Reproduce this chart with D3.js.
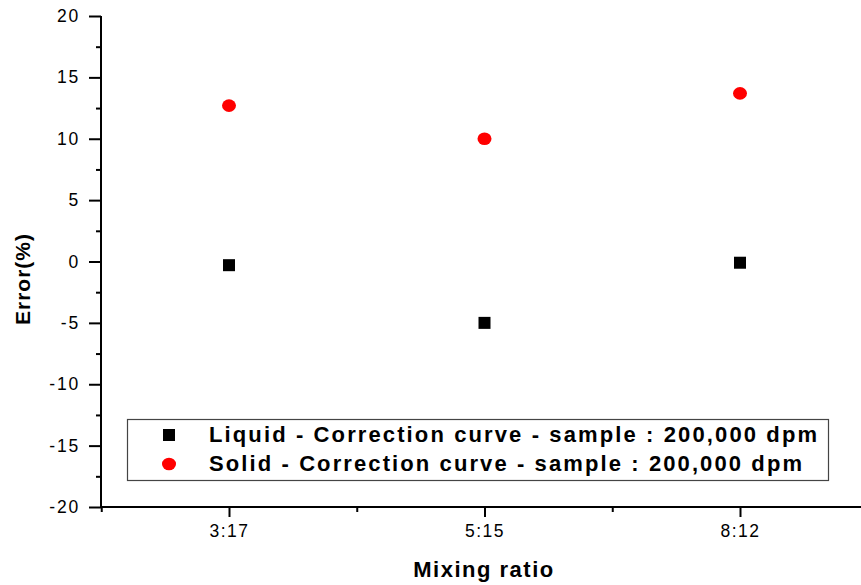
<!DOCTYPE html>
<html><head><meta charset="utf-8">
<script src="https://cdn.jsdelivr.net/npm/d3@7"></script>
<style>
body{margin:0;background:#fff;}
text{font-family:"Liberation Sans",Arial,sans-serif;}
</style></head>
<body><svg id="c" width="861" height="585"></svg>
<script>
const categories = ["3:17", "5:15", "8:12"];
const liquidValues = [-0.3, -5.0, -0.1];
const solidValues = [12.7, 10.0, 13.7];
const yTicks = [-20, -15, -10, -5, 0, 5, 10, 15, 20];
const yMinorTicks = [-17.5, -12.5, -7.5, -2.5, 2.5, 7.5, 12.5, 17.5];
const xMinorTicks = [-0.5, 0.5, 1.5, 2.5];
const legendLabels = ["Liquid - Correction curve - sample : 200,000 dpm",
                      "Solid - Correction curve - sample : 200,000 dpm"];

const svg = d3.select("#c");
const x = d3.scaleLinear().domain([-0.5, 2.5]).range([101.25, 867.75]);
const y = d3.scaleLinear().domain([-20, 20]).range([507, 16]);

// Y axis
const yAx = svg.append("g").attr("transform", "translate(101,0)")
  .call(d3.axisLeft(y).tickValues(yTicks).tickSize(12).tickPadding(9).tickFormat(d => String(d)));
yAx.select(".domain").attr("stroke-width", 2).attr("d", "M0,16V507");
yAx.selectAll(".tick line").attr("stroke-width", 2);
yAx.selectAll(".tick text").attr("font-size", 17.5).attr("fill", "#000").attr("letter-spacing", 1.8);
const yMin = svg.append("g").attr("transform", "translate(101,0)")
  .call(d3.axisLeft(y).tickValues(yMinorTicks).tickSize(5).tickFormat(""));
yMin.select(".domain").remove();
yMin.selectAll(".tick line").attr("stroke-width", 2);

// X axis
const xAx = svg.append("g").attr("transform", "translate(0,507)")
  .call(d3.axisBottom(x).tickValues([0, 1, 2]).tickSize(10).tickPadding(8)
    .tickFormat(i => categories[i]));
xAx.select(".domain").attr("stroke-width", 2).attr("d", "M100,0H868");
xAx.selectAll(".tick line").attr("stroke-width", 2);
xAx.selectAll(".tick text").attr("font-size", 17.5).attr("fill", "#000").attr("letter-spacing", 1.5);
const xMin = svg.append("g").attr("transform", "translate(0,507)")
  .call(d3.axisBottom(x).tickValues(xMinorTicks).tickSize(5).tickFormat(""));
xMin.select(".domain").remove();
xMin.selectAll(".tick line").attr("stroke-width", 2);

// Axis titles
svg.append("text").attr("x", 484).attr("y", 577).attr("text-anchor", "middle")
  .attr("font-size", 22).attr("font-weight", "bold").attr("letter-spacing", 1.5).text("Mixing ratio");
svg.append("text").attr("transform", "translate(30,279) rotate(-90)").attr("text-anchor", "middle")
  .attr("font-size", 21).attr("font-weight", "bold").attr("letter-spacing", 1).text("Error(%)");

// Data points
svg.append("g").selectAll("rect").data(liquidValues).join("rect")
  .attr("x", (d, i) => x(i) - 6).attr("y", d => y(d) - 6)
  .attr("width", 12).attr("height", 12).attr("fill", "#000");
svg.append("g").selectAll("ellipse").data(solidValues).join("ellipse")
  .attr("cx", (d, i) => x(i)).attr("cy", d => y(d))
  .attr("rx", 7).attr("ry", 6.3).attr("fill", "#ff0000");

// Legend
svg.append("rect").attr("x", 127.5).attr("y", 419.5).attr("width", 701).attr("height", 61)
  .attr("fill", "#fff").attr("stroke", "#444").attr("stroke-width", 1.2);
svg.append("rect").attr("x", 163).attr("y", 429).attr("width", 12).attr("height", 12).attr("fill", "#000");
svg.append("ellipse").attr("cx", 169).attr("cy", 464).attr("rx", 7).attr("ry", 6.3).attr("fill", "#ff0000");
const lens = [608, 593];
legendLabels.forEach((t, i) => {
  svg.append("text").attr("x", 209).attr("y", 442 + i * 29)
    .attr("font-size", 22).attr("font-weight", "bold")
    .attr("textLength", lens[i]).attr("lengthAdjust", "spacing").text(t);
});
</script></body></html>
